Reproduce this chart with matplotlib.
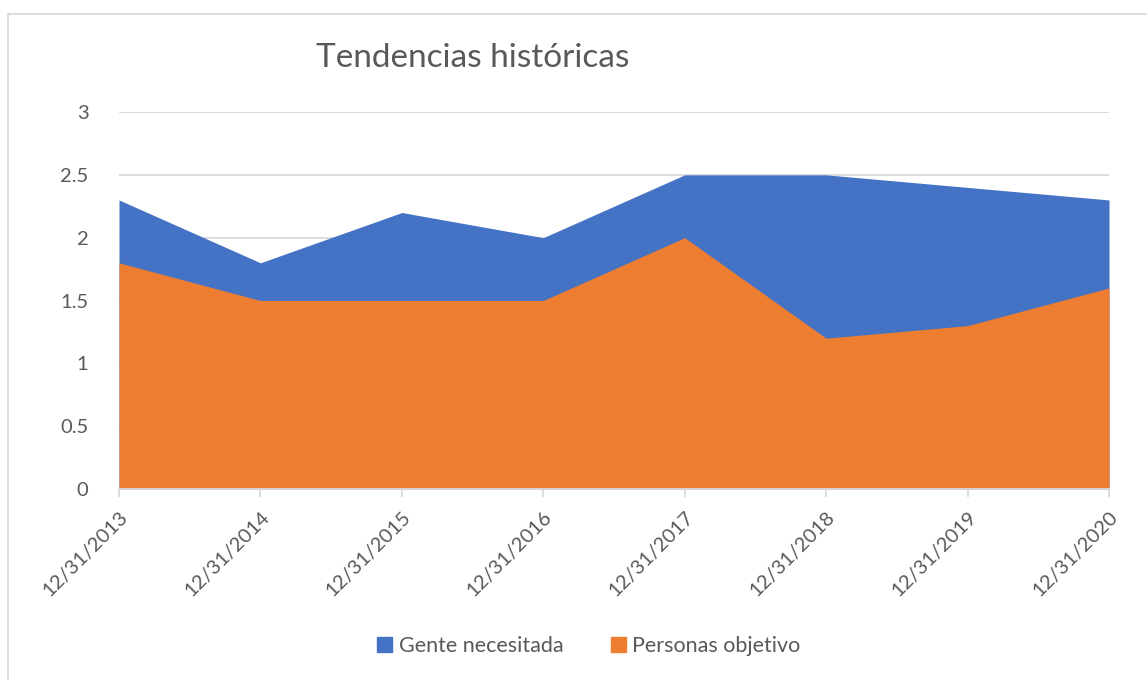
import matplotlib
matplotlib.use("Agg")
import matplotlib.pyplot as plt
from matplotlib.patches import Rectangle, Patch
import numpy as np

dates = ["12/31/2013", "12/31/2014", "12/31/2015", "12/31/2016",
         "12/31/2017", "12/31/2018", "12/31/2019", "12/31/2020"]
gente = [2.3, 1.8, 2.2, 2.0, 2.5, 2.5, 2.4, 2.3]
personas = [1.8, 1.5, 1.5, 1.5, 2.0, 1.2, 1.3, 1.6]
yticks = [0, 0.5, 1, 1.5, 2, 2.5, 3]
ytick_labels = ["0", "0.5", "1", "1.5", "2", "2.5", "3"]

BLUE, ORANGE, TXT, GRID = "#4472C4", "#ED7D31", "#595959", "#D9D9D9"
plt.rcParams["font.family"] = ["Lato", "DejaVu Sans"]

fig = plt.figure(figsize=(11.47, 6.8), dpi=100)
W, H = 1147, 680
ax = fig.add_axes([119 / W, 1 - 489 / H, (1109 - 119) / W, (489 - 112) / H])

x = np.arange(len(dates))
ax.fill_between(x, 0, gente, color=BLUE, lw=0, zorder=2)
ax.fill_between(x, 0, personas, color=ORANGE, lw=0, zorder=3)

ax.set_xlim(0, len(dates) - 1)
ax.set_ylim(0, 3)
ax.set_yticks(yticks)
ax.set_yticklabels(ytick_labels)
ax.yaxis.grid(True, color=GRID, lw=1.3)
ax.set_axisbelow(True)
for s in ["left", "right", "top"]:
    ax.spines[s].set_visible(False)
ax.spines["bottom"].set_color(GRID)
ax.spines["bottom"].set_linewidth(1.3)
ax.spines["bottom"].set_zorder(4)

ax.set_xticks(x)
ax.set_xticklabels(dates, rotation=45, ha="right", rotation_mode="anchor")
ax.tick_params(axis="x", colors=GRID, labelcolor=TXT, labelsize=14.5, length=6, width=1.3, pad=8)
ax.tick_params(axis="y", length=0, labelcolor=TXT, labelsize=14.5, pad=22)

fig.text(473 / W, 1 - 58 / H, "Tendencias históricas", ha="center", va="center",
         fontsize=24, color=TXT)

handles = [Patch(color=BLUE, label="Gente necesitada"), Patch(color=ORANGE, label="Personas objetivo")]
fig.legend(handles=handles, loc="center", bbox_to_anchor=(589 / W, 1 - 646 / H), ncol=2,
           frameon=False, fontsize=15.5, labelcolor=TXT, handlelength=0.7, handleheight=0.7,
           handletextpad=0.3, columnspacing=2.2)

fig.patches.append(Rectangle((8 / W, -0.05), 1.2, 1 - 14 / H + 0.05, transform=fig.transFigure,
                             fill=False, edgecolor=GRID, lw=1.3))

fig.savefig("out.png", dpi=100)
